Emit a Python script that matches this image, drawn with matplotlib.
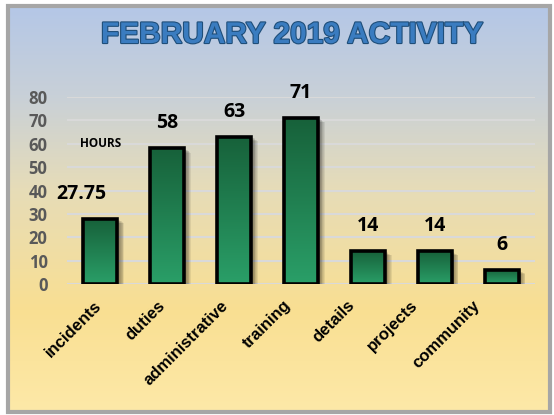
import matplotlib.pyplot as plt
import matplotlib.patheffects as pe
from matplotlib.colors import LinearSegmentedColormap
from matplotlib.patches import Rectangle
import numpy as np

categories = ['incidents', 'duties', 'administrative', 'training', 'details', 'projects', 'community']
hours = [27.75, 58, 63, 71, 14, 14, 6]
value_labels = ['27.75', '58', '63', '71', '14', '14', '6']
yticks = [0, 10, 20, 30, 40, 50, 60, 70, 80]

plt.rcParams['font.family'] = ['Liberation Sans', 'DejaVu Sans']
num_font = ['Open Sans', 'DejaVu Sans']

fig = plt.figure(figsize=(5.54, 4.15), dpi=100)

# chart frame background (gradient blue -> yellow)
bg = fig.add_axes([0, 0, 1, 1], zorder=-10)
bg.set_xlim(0, 554)
bg.set_ylim(415, 0)
bg.axis('off')
bg_cmap = LinearSegmentedColormap.from_list('bg', [
    (0.0, '#b4c7e7'), (0.22, '#c8d0d8'), (0.45, '#e6dcb8'),
    (0.75, '#f9df92'), (1.0, '#fde9a8')])
grad = np.linspace(0, 1, 256).reshape(-1, 1)
bg.imshow(grad, cmap=bg_cmap, aspect='auto', extent=[8, 550, 412, 6], zorder=0)
bg.add_patch(Rectangle((8, 6), 542, 406, fill=False, edgecolor='#a6a6a6', lw=3, zorder=2))

# title
bg.text(292, 35, 'FEBRUARY 2019 ACTIVITY', ha='center', va='center', fontsize=21.5,
        fontweight='bold', color='#3a7cc0', zorder=3,
        path_effects=[pe.withStroke(linewidth=1.6, foreground='#1f4e79')])

ax = fig.add_axes([67 / 554, 1 - 284 / 415, (535 - 67) / 554, (284 - 97) / 415])
ax.set_facecolor('none')
x = np.arange(len(categories))

bar_cmap = LinearSegmentedColormap.from_list('bar', ['#2a9f68', '#17613a'])
bars = ax.bar(x, hours, width=0.51, color='none', edgecolor='black', linewidth=2.6, zorder=4)
for b in bars:
    x0, w, h = b.get_x(), b.get_width(), b.get_height()
    # soft shadow
    for k in range(6):
        ax.add_patch(Rectangle((x0 + 0.04 + k * 0.012, 0), w, h - 0.5 - k * 0.25,
                               color='black', alpha=0.07, lw=0, zorder=2))
    im = ax.imshow(grad, cmap=bar_cmap, aspect='auto',
                   extent=[x0, x0 + w, 0, h], origin='lower', zorder=3)
    im.set_clip_path(b)

ax.set_xlim(-0.5, len(categories) - 0.5)
ax.set_ylim(0, 80)

ax.yaxis.grid(True, color='#d9d9d9', lw=1.5, zorder=1)
ax.set_axisbelow(True)
for s in ax.spines.values():
    s.set_visible(False)
ax.tick_params(length=0)
ax.set_yticks(yticks)
ax.set_yticklabels([str(t) for t in yticks], fontsize=12, fontweight='bold',
                   color='#595959', family=num_font)
ax.tick_params(axis='y', pad=14)
# Excel packs rotated category labels slightly tighter than the bars
ax.set_xticks(x * 0.945 - 0.1)
ax.set_xticklabels(categories, rotation=45, ha='right', va='top', rotation_mode='anchor',
                   fontsize=12, fontweight='bold', color='black')
ax.tick_params(axis='x', pad=10)

for i, (v, lab) in enumerate(zip(hours, value_labels)):
    dx = -19 if i == 0 else 0
    ax.annotate(lab, (i, v), xytext=(dx * 0.72, 18), textcoords='offset points',
                ha='center', va='center', fontsize=14, fontweight='bold',
                family=num_font, zorder=6)

ax.text(0, 60, 'HOURS', ha='center', va='center', fontsize=8.5, fontweight='bold',
        family=num_font)

fig.savefig('out.png', dpi=100)
